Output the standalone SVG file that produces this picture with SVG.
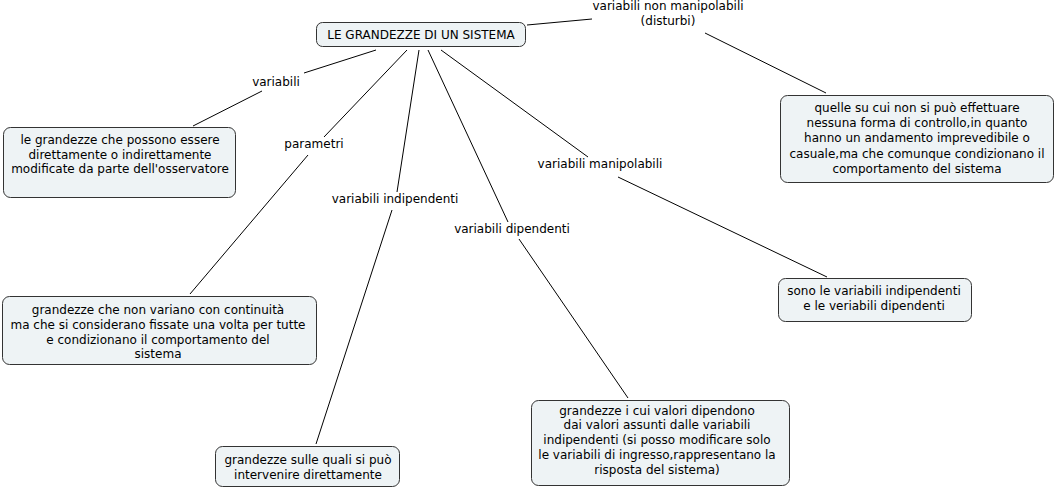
<svg xmlns="http://www.w3.org/2000/svg" width="1056" height="489" viewBox="0 0 1056 489">
<style>
.box{fill:#eef3f5;stroke:#333;stroke-width:1}
text{font-family:"DejaVu Sans",Verdana,sans-serif;font-size:12px;fill:#000;text-anchor:middle}
.c line{stroke:#000;stroke-width:1}
</style>
<rect width="1056" height="489" fill="#fff"/>
<g class="c" id="connectors">
<line x1="527" y1="25" x2="592" y2="19"/>
<line x1="705" y1="33" x2="826" y2="93"/>
<line x1="376" y1="50" x2="304" y2="73"/>
<line x1="262" y1="91" x2="193" y2="126"/>
<line x1="407" y1="50" x2="324" y2="137"/>
<line x1="308" y1="155" x2="190" y2="294"/>
<line x1="419" y1="50" x2="397" y2="192"/>
<line x1="392" y1="210" x2="316" y2="444"/>
<line x1="428" y1="50" x2="508" y2="222"/>
<line x1="519" y1="239" x2="628" y2="398"/>
<line x1="441" y1="50" x2="588" y2="157"/>
<line x1="618" y1="177" x2="827" y2="277"/>
</g>
<g id="main"><rect class="box" x="316.5" y="22.5" width="209" height="24" rx="6"/><text x="421" y="39">LE GRANDEZZE DI UN SISTEMA</text></g>
<g id="lbl-nonmanip"><text x="668" y="10">variabili non manipolabili</text><text x="668" y="25">(disturbi)</text></g>
<g id="lbl-variabili"><text x="276" y="86">variabili</text></g>
<g id="lbl-parametri"><text x="314" y="148">parametri</text></g>
<g id="lbl-indip"><text x="395" y="203">variabili indipendenti</text></g>
<g id="lbl-dip"><text x="512" y="233">variabili dipendenti</text></g>
<g id="lbl-manip"><text x="600" y="168">variabili manipolabili</text></g>
<g id="box1"><rect class="box" x="3.5" y="127.5" width="232" height="70" rx="7"/>
<text x="120" y="144">le grandezze che possono essere</text><text x="120" y="159">direttamente o indirettamente</text><text x="120" y="173">modificate da parte dell'osservatore</text></g>
<g id="box2"><rect class="box" x="780.5" y="95.5" width="273" height="87" rx="7"/>
<text x="917" y="112">quelle su cui non si può effettuare</text><text x="917" y="127">nessuna forma di controllo,in quanto</text><text x="917" y="142">hanno un andamento imprevedibile o</text><text x="917" y="158">casuale,ma che comunque condizionano il</text><text x="917" y="173">comportamento del sistema</text></g>
<g id="box3"><rect class="box" x="2.5" y="296.5" width="314" height="68" rx="7"/>
<text x="158" y="314">grandezze che non variano con continuità</text><text x="158" y="329">ma che si considerano fissate una volta per tutte</text><text x="158" y="344">e condizionano il comportamento del</text><text x="158" y="358">sistema</text></g>
<g id="box4"><rect class="box" x="778.5" y="278.5" width="193" height="43" rx="7"/>
<text x="874" y="295">sono le variabili indipendenti</text><text x="874" y="310">e le veriabili dipendenti</text></g>
<g id="box5"><rect class="box" x="531.5" y="400.5" width="258" height="85" rx="7"/>
<text x="657" y="415">grandezze i cui valori dipendono</text><text x="657" y="429">dai valori assunti dalle variabili</text><text x="657" y="444">indipendenti (si posso modificare solo</text><text x="657" y="459">le variabili di ingresso,rappresentano la</text><text x="657" y="474">risposta del sistema)</text></g>
<g id="box6"><rect class="box" x="215.5" y="446.5" width="184" height="40" rx="7"/>
<text x="308" y="464">grandezze sulle quali si può</text><text x="308" y="479">intervenire direttamente</text></g>
</svg>
